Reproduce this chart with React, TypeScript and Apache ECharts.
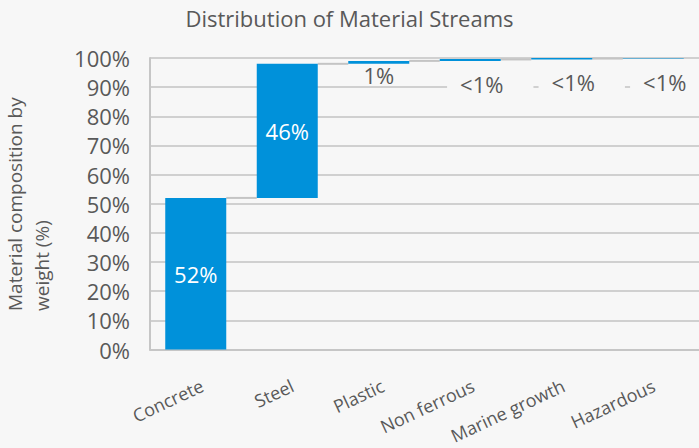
import React, { useEffect, useRef } from "react";
import * as echarts from "echarts";

const categories = ["Concrete", "Steel", "Plastic", "Non ferrous", "Marine growth", "Hazardous"];
const values = [52, 46, 1, 0.5, 0.3, 0.2];
const valueLabels = ["52%", "46%", "1%", "<1%", "<1%", "<1%"];
const yMin = 0;
const yMax = 100;
const yInterval = 10;

const FONT = "'Open Sans', 'Noto Sans', sans-serif";
const TEXT = "#595959";
const BG = "#f7f7f7";
const BLUE = "#0091DA";
const GRID = "#d0d0d0";
const BAR_W = 61;

export default function App() {
  const ref = useRef<HTMLDivElement>(null);

  useEffect(() => {
    if (!ref.current) return;
    const chart = echarts.init(ref.current, undefined, { renderer: "svg" });

    const bases: number[] = [];
    let acc = 0;
    values.forEach((v) => {
      bases.push(acc);
      acc += v;
    });
    const connectors = values.slice(0, -1).map((v, i) => [i, bases[i] + v]);

    const valueData = values.map((v, i) => {
      let label: any;
      if (i < 2) {
        label = { position: "inside", color: "#ffffff" };
      } else if (i === 2) {
        label = { position: "bottom", distance: 0, color: TEXT };
      } else {
        label = {
          position: "bottom",
          distance: 10,
          offset: [20, 0],
          color: TEXT,
          backgroundColor: BG,
          padding: [2, 30, 2, 13],
        };
      }
      return { value: v, label: { ...label, formatter: valueLabels[i] } };
    });

    chart.setOption({
      animation: false,
      backgroundColor: BG,
      textStyle: { fontFamily: FONT },
      title: {
        text: "Distribution of Material Streams",
        left: "center",
        top: 2,
        textStyle: { fontFamily: FONT, fontSize: 22, fontWeight: "normal", color: TEXT },
      },
      graphic: [
        {
          type: "text",
          x: 28,
          y: 311,
          rotation: Math.PI / 2,
          style: {
            text: "Material composition by\nweight (%)",
            fontFamily: FONT,
            fontSize: 19,
            lineHeight: 27,
            fill: TEXT,
            textAlign: "left",
            textVerticalAlign: "middle",
          },
        },
      ],
      grid: [
        { left: 150, right: -3, top: 58, bottom: 98.5, containLabel: false },
        { left: 157, right: -10, top: 58, bottom: 98.5, containLabel: false },
      ],
      xAxis: [
        {
          type: "category",
          gridIndex: 0,
          data: categories,
          axisLine: { show: true, lineStyle: { color: "#c6c6c6", width: 2 } },
          axisTick: { show: false },
          axisLabel: { show: false },
          splitLine: { show: false },
        },
        {
          type: "category",
          gridIndex: 1,
          data: categories,
          axisLine: { show: false },
          axisTick: { show: false },
          axisLabel: {
            interval: 0,
            rotate: 25,
            margin: 35,
            fontSize: 18,
            fontFamily: FONT,
            color: TEXT,
          },
        },
      ],
      yAxis: [
        {
          type: "value",
          gridIndex: 0,
          min: yMin,
          max: yMax,
          interval: yInterval,
          axisLine: { show: true, lineStyle: { color: "#c6c6c6", width: 2 } },
          axisTick: { show: false },
          axisLabel: {
            formatter: "{value}%",
            fontSize: 22,
            fontFamily: FONT,
            color: TEXT,
            margin: 20,
          },
          splitLine: { show: true, lineStyle: { color: GRID, width: 2 } },
        },
        { type: "value", gridIndex: 1, min: 0, max: 1, show: false },
      ],
      series: [
        {
          name: "base",
          type: "bar",
          stack: "w",
          barWidth: BAR_W,
          silent: true,
          itemStyle: { color: "transparent" },
          data: bases,
        },
        {
          name: "share",
          type: "bar",
          stack: "w",
          barWidth: BAR_W,
          barMinHeight: 2,
          itemStyle: { color: BLUE },
          label: { show: true, fontSize: 22, fontFamily: FONT },
          data: valueData,
          z: 3,
        },
        {
          name: "connectors",
          type: "custom",
          silent: true,
          data: connectors,
          z: 2,
          renderItem: (params: any, api: any) => {
            const i = api.value(0);
            const v = api.value(1);
            const p1 = api.coord([i, v]);
            const p2 = api.coord([i + 1, v]);
            return {
              type: "line",
              shape: { x1: p1[0] + BAR_W / 2, y1: p1[1], x2: p2[0] - BAR_W / 2, y2: p2[1] },
              style: { stroke: "#c4c4c4", lineWidth: 2 },
            };
          },
        },
      ],
    });

    return () => chart.dispose();
  }, []);

  return (
    <div
      ref={ref}
      style={{ position: "fixed", left: 0, top: 0, width: 699, height: 448 }}
    />
  );
}
